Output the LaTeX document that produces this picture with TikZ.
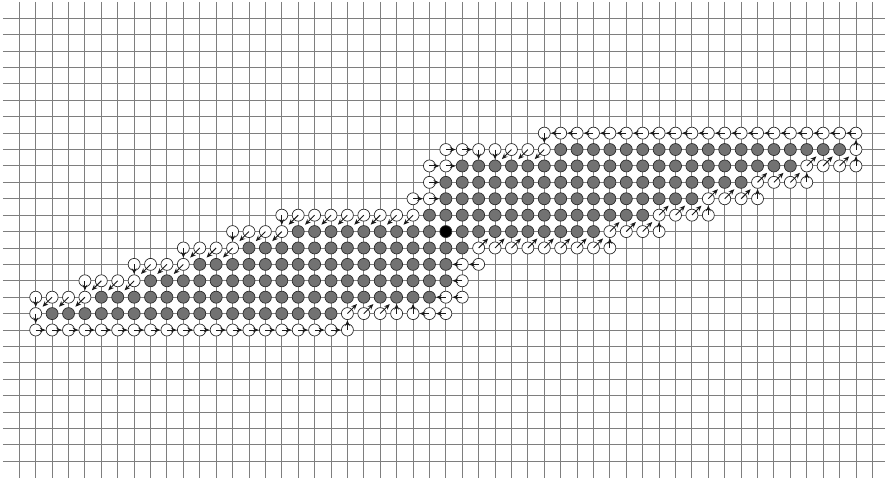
\documentclass[tikz,border=0pt]{standalone}
\usepackage{xcolor}
\usepackage{tikz}
\usetikzlibrary{arrows.meta}
\definecolor{gridgray}{HTML}{7E7E7E}
\definecolor{cellgray}{HTML}{727272}
\definecolor{rimdark}{HTML}{2A2A2A}

\tikzset{
  gridline/.style={gridgray,line width=0.8pt},
  outnode/.style={circle,draw=rimdark,line width=0.6pt,fill=white,minimum size=10.4pt,inner sep=0pt},
  innode/.style={outnode,fill=cellgray},
  seednode/.style={outnode,fill=black},
  flow/.style={-{Stealth[length=5pt,width=4.2pt]},line width=0.8pt,black!90}
}

\begin{document}
\begin{tikzpicture}[x=0.5cm,y=-0.5cm]
  \clip (-1.177,-1.116) rectangle (52.77,28.15);
  \useasboundingbox (-1.177,-1.116) rectangle (52.77,28.15);

  \foreach \j in {0,...,27} \draw[gridline] (-1,\j) -- (53,\j);
  \foreach \i in {0,...,52} \draw[gridline] (\i,-1) -- (\i,28);

  % inside points
  \foreach \j/\a/\b in {8/33/50,9/27/47,10/26/44,11/26/41,12/25/38,13/17/25,13/27/35,
                        14/14/27,15/11/26,16/8/26,17/5/25,18/2/19}
    \foreach \i in {\a,...,\b}
      \node[innode] (n-\i-\j) at (\i,\j) {};
  \node[seednode] (n-26-13) at (26,13) {};

  % boundary points
  \foreach \j/\a/\b in {7/32/51,8/26/32,8/51/51,9/25/26,9/48/51,10/25/25,10/45/48,
                        11/24/25,11/42/45,12/16/24,12/39/42,13/13/16,13/36/39,
                        14/10/13,14/28/36,15/7/10,15/27/28,16/4/7,16/27/27,
                        17/1/4,17/26/27,18/1/1,18/20/26,19/1/20}
    \foreach \i in {\a,...,\b}
      \node[outnode] (n-\i-\j) at (\i,\j) {};

  % moves of the boundary points
  \foreach \j/\a/\b/\dx/\dy in {19/1/19/1/0,19/20/20/0/-1,18/20/22/1/-1,18/23/24/0/-1,
                                18/25/26/-1/0,17/26/27/-1/0,16/27/27/-1/0,15/27/28/-1/0,
                                14/28/35/1/-1,14/36/36/0/-1,13/36/38/1/-1,13/39/39/0/-1,
                                12/39/41/1/-1,12/42/42/0/-1,11/42/44/1/-1,11/45/45/0/-1,
                                10/45/47/1/-1,10/48/48/0/-1,9/48/50/1/-1,9/51/51/0/-1,
                                8/51/51/0/-1,
                                7/33/51/-1/0,7/32/32/0/1,8/30/32/-1/1,8/28/29/0/1,
                                8/26/27/1/0,9/25/26/1/0,10/25/25/1/0,11/24/25/1/0,
                                12/17/24/-1/1,12/16/16/0/1,13/14/16/-1/1,13/13/13/0/1,
                                14/11/13/-1/1,14/10/10/0/1,15/8/10/-1/1,15/7/7/0/1,
                                16/5/7/-1/1,16/4/4/0/1,17/2/4/-1/1,17/1/1/0/1,18/1/1/0/1}
    \foreach \i in {\a,...,\b}{
      \pgfmathtruncatemacro{\k}{\i+\dx}
      \pgfmathtruncatemacro{\l}{\j+\dy}
      \pgfmathsetmacro{\gap}{abs(\dx*\dy)*2.6+0.3}
      \draw[flow,shorten >=\gap pt] (n-\i-\j.center) -- (n-\k-\l);
    }
\end{tikzpicture}
\end{document}
